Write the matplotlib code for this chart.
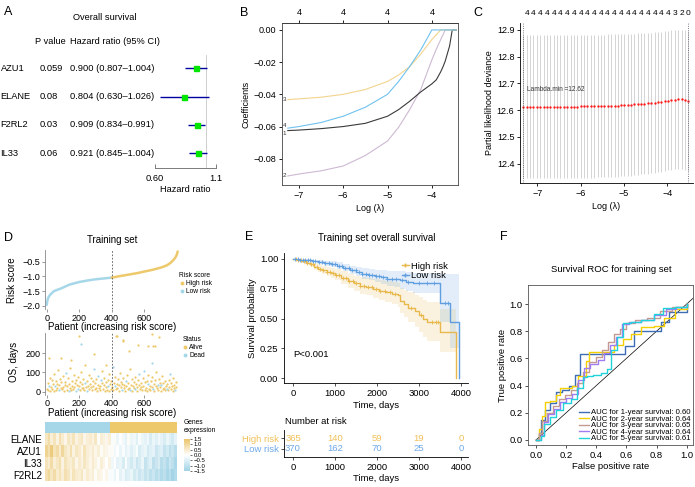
import numpy as np
import matplotlib
matplotlib.use('Agg')
import matplotlib.pyplot as plt
from matplotlib.lines import Line2D
from matplotlib.ticker import NullLocator
from matplotlib.colors import LinearSegmentedColormap

plt.rcParams['font.family'] = ['Liberation Sans', 'DejaVu Sans']
plt.rcParams['axes.linewidth'] = 0.6
plt.rcParams['xtick.major.width'] = 0.6
plt.rcParams['ytick.major.width'] = 0.6
plt.rcParams['xtick.major.size'] = 2.5
plt.rcParams['ytick.major.size'] = 2.5
plt.rcParams['xtick.major.pad'] = 1.5
plt.rcParams['ytick.major.pad'] = 1.5

# ---------------- data ----------------
# A: univariate cox
genes = ['AZU1', 'ELANE', 'F2RL2', 'IL33']
pvals = ['0.059', '0.08', '0.03', '0.06']
hr = [0.900, 0.804, 0.909, 0.921]
hr_lo = [0.807, 0.630, 0.834, 0.845]
hr_hi = [1.004, 1.026, 0.991, 1.004]

# B: lasso coefficient paths
lasso_loglam = [-7.25, -7.0, -6.5, -6.0, -5.5, -5.0, -4.75, -4.5, -4.25, -4.0,
                -3.9, -3.8, -3.75, -3.7, -3.6, -3.54, -3.45]
coef1 = [-0.0625, -0.0622, -0.0613, -0.0600, -0.0580, -0.0536, -0.0495, -0.0443, -0.0385, -0.0335,
         -0.0310, -0.0260, -0.0230, -0.0195, -0.0100, 0.0, 0.0]
coef2 = [-0.0907, -0.0895, -0.0875, -0.0845, -0.0780, -0.0690, -0.0605, -0.0495, -0.0370, -0.0186,
         -0.0120, -0.0060, -0.0030, 0.0, 0.0, 0.0, 0.0]
coef3 = [-0.0433, -0.0428, -0.0418, -0.0400, -0.0370, -0.0320, -0.0280, -0.0228, -0.0150, -0.0060,
         -0.0030, 0.0, 0.0, 0.0, 0.0, 0.0, 0.0]
coef4 = [-0.0610, -0.0600, -0.0575, -0.0536, -0.0480, -0.0400, -0.0320, -0.0227, -0.0124, 0.0,
         0.0, 0.0, 0.0, 0.0, 0.0, 0.0, 0.0]

# C: cross-validation
cv_loglam = [-7.32, -7.24, -7.17, -7.09, -7.01, -6.93, -6.85, -6.78, -6.70, -6.62,
             -6.54, -6.47, -6.39, -6.31, -6.23, -6.16, -6.08, -6.00, -5.92, -5.85,
             -5.77, -5.69, -5.61, -5.54, -5.46, -5.38, -5.30, -5.22, -5.15, -5.07,
             -4.99, -4.91, -4.84, -4.76, -4.68, -4.60, -4.53, -4.45, -4.37, -4.29,
             -4.22, -4.14, -4.06, -3.98, -3.91, -3.83, -3.75, -3.67, -3.60, -3.52]
cv_mean = [12.612, 12.612, 12.612, 12.612, 12.612, 12.612, 12.612, 12.612, 12.612, 12.613,
           12.613, 12.613, 12.613, 12.613, 12.613, 12.613, 12.613, 12.614, 12.614, 12.614,
           12.614, 12.614, 12.615, 12.615, 12.615, 12.616, 12.616, 12.617, 12.617, 12.618,
           12.619, 12.620, 12.620, 12.621, 12.622, 12.623, 12.624, 12.625, 12.627, 12.628,
           12.630, 12.631, 12.633, 12.635, 12.637, 12.639, 12.640, 12.640, 12.637, 12.633]
cv_se = [0.268, 0.268, 0.268, 0.268, 0.268, 0.268, 0.268, 0.268, 0.268, 0.268,
         0.268, 0.268, 0.268, 0.268, 0.268, 0.268, 0.268, 0.268, 0.268, 0.268,
         0.268, 0.268, 0.267, 0.267, 0.267, 0.267, 0.267, 0.267, 0.266, 0.266,
         0.266, 0.266, 0.265, 0.265, 0.265, 0.264, 0.264, 0.264, 0.263, 0.263,
         0.263, 0.262, 0.262, 0.261, 0.261, 0.260, 0.260, 0.260, 0.261, 0.262]
cv_nzero = [4] * 45 + [3, 3, 2, 2, 0]

# D: risk score curve (sorted patients)
risk_patient = [0, 3, 8, 20, 45, 92, 140, 200, 250, 297, 350, 400, 450, 502, 555, 605,
                655, 708, 740, 759, 775, 790, 800, 806]
risk_score = [-1.97, -1.85, -1.74, -1.63, -1.50, -1.40, -1.28, -1.19, -1.14, -1.10, -1.07,
              -1.04, -0.99, -0.94, -0.89, -0.83, -0.77, -0.69, -0.62, -0.55, -0.47, -0.37,
              -0.27, -0.15]
cutoff = 400
n_patients = 806

os_days = [12, 45, 8, 30, 72, 5, 22, 60, 15, 38, 90, 3, 27, 55, 10, 42, 18, 110, 7, 33, 65, 20, 48,
           14, 80, 25, 6, 52, 36, 95, 11, 28, 70, 4, 40, 19, 125, 9, 58, 31, 16, 85, 23, 46, 2, 62,
           35, 13, 75, 29, 7, 50, 100, 21, 39, 17, 68, 10, 44, 140, 26, 5, 57, 32, 88, 15, 41, 24, 73,
           8, 53, 30, 115, 12, 47, 20, 66, 3, 37, 82, 18, 28, 9, 60, 43, 105, 14, 34, 71, 6, 25, 49,
           11, 63, 27, 4, 92, 38, 16, 55, 22, 130, 7, 45, 31, 78, 13, 40, 19, 67, 2, 35, 98, 24, 51,
           9, 42, 70, 17, 33, 6, 58, 28, 86, 14, 46, 21, 120, 10, 37, 64, 4, 29, 52, 18, 77, 12, 40,
           26, 5, 61, 35, 94, 15, 44, 23, 8, 69, 31, 108, 11, 48, 20, 57, 3, 38, 84, 16, 30, 7, 54,
           22, 74, 13, 41, 6, 59, 27, 102, 18, 36, 9, 65, 25, 47, 4, 33, 81, 14, 43, 20, 56, 10, 30,
           15, 38, 7, 62, 24, 90, 12, 45, 29, 5, 70, 19, 34, 11, 52, 26]
os_dead_idx = [3, 12, 18, 29, 33, 44, 47, 58, 61, 72, 79, 83, 94, 101, 104, 115, 121, 128,
               136, 142, 149, 155, 163, 170, 176, 184, 189, 197]
os_hi_patient = [15, 88, 151, 200, 208, 288, 366, 425, 435, 467, 471, 509, 561, 625, 646, 646, 656, 665, 688]
os_hi_days = [177, 174, 163, 289, 247, 195, 138, 291, 288, 265, 270, 212, 242, 238, 300, 151, 238, 238, 282]
os_hi_dead = [0, 0, 0, 0, 1, 0, 0, 0, 0, 0, 0, 0, 0, 0, 0, 1, 0, 0, 0]

heat_genes = ['ELANE', 'AZU1', 'IL33', 'F2RL2']
heat_expr = [
    [0.6, 0.9, 0.4, 0.7, 0.3, 0.8, 0.5, 0.2, 0.6, 0.4, 0.7, 0.3, 0.5, 0.6, 0.2, 0.4, 0.5, 0.3, 0.6, 0.1, 0.4, 0.3, 0.2, 0.4,
     -0.1, 0.1, -0.3, 0.0, -0.2, -0.4, 0.1, -0.3, -0.2, -0.5, -0.1, -0.3, -0.4, -0.2, -0.6, -0.3, -0.5, -0.2, -0.4, -0.6, -0.3, -0.5, -0.7, -0.4],
    [1.1, 0.8, 1.3, 0.7, 0.9, 0.5, 1.0, 0.6, 0.4, 0.8, 0.3, 0.6, 0.5, 0.2, 0.7, 0.4, 0.3, 0.5, 0.2, 0.4, 0.1, 0.3, 0.2, 0.1,
     0.1, -0.2, 0.0, -0.3, -0.1, -0.4, -0.2, -0.5, -0.3, -0.1, -0.6, -0.4, -0.3, -0.7, -0.5, -0.4, -0.8, -0.6, -0.5, -0.9, -0.7, -1.0, -0.8, -1.1],
    [0.7, 0.5, 0.9, 0.4, 0.6, 0.8, 0.3, 0.7, 0.5, 0.4, 0.6, 0.2, 0.5, 0.3, 0.6, 0.4, 0.2, 0.5, 0.3, 0.1, 0.4, 0.2, 0.0, 0.3,
     -0.2, 0.0, -0.4, -0.3, -0.6, -0.1, -0.5, -0.7, -0.4, -0.8, -0.6, -0.3, -0.9, -0.7, -0.5, -1.0, -0.8, -0.6, -1.1, -0.9, -1.2, -0.8, -1.0, -1.3],
    [0.8, 1.0, 0.6, 0.9, 0.5, 0.7, 0.4, 0.8, 0.6, 0.3, 0.7, 0.5, 0.4, 0.6, 0.2, 0.5, 0.3, 0.4, 0.1, 0.3, 0.2, 0.0, 0.2, -0.1,
     -0.1, -0.3, 0.0, -0.4, -0.2, -0.6, -0.5, -0.3, -0.7, -0.5, -0.8, -0.6, -0.9, -0.7, -1.0, -0.8, -1.1, -0.9, -1.2, -1.0, -1.3, -1.1, -1.4, -1.2],
]

# E: Kaplan-Meier
km_hi_t = [0, 100, 200, 300, 400, 500, 600, 700, 800, 900, 1000, 1150, 1300, 1450, 1600, 1750, 1900,
           2050, 2200, 2350, 2500, 2550, 2650, 2750, 2900, 3000, 3100, 3200, 3500, 3880]
km_hi_s = [1.0, 0.99, 0.98, 0.97, 0.955, 0.935, 0.92, 0.905, 0.89, 0.88, 0.865, 0.84, 0.815, 0.795,
           0.775, 0.765, 0.75, 0.735, 0.725, 0.71, 0.695, 0.65, 0.62, 0.59, 0.56, 0.53, 0.50, 0.47, 0.39, 0.0]
km_hi_lo = [1.0, 0.98, 0.965, 0.955, 0.935, 0.91, 0.89, 0.87, 0.855, 0.84, 0.82, 0.79, 0.76, 0.735,
            0.71, 0.695, 0.675, 0.655, 0.64, 0.62, 0.60, 0.55, 0.51, 0.47, 0.43, 0.39, 0.35, 0.31, 0.22, 0.0]
km_hi_up = [1.0, 1.0, 0.995, 0.99, 0.98, 0.965, 0.955, 0.945, 0.93, 0.925, 0.915, 0.895, 0.875, 0.86,
            0.845, 0.84, 0.83, 0.82, 0.815, 0.805, 0.795, 0.76, 0.74, 0.72, 0.70, 0.68, 0.66, 0.64, 0.58, 0.58]
km_lo_t = [0, 150, 300, 450, 600, 750, 900, 1050, 1200, 1350, 1500, 1650, 1800, 1950, 2100, 2250,
           2400, 2550, 2700, 2850, 3500, 3740, 3960]
km_lo_s = [1.0, 0.995, 0.99, 0.985, 0.975, 0.965, 0.955, 0.945, 0.925, 0.905, 0.89, 0.875, 0.865,
           0.855, 0.845, 0.835, 0.83, 0.82, 0.81, 0.795, 0.63, 0.47, 0.0]
km_lo_lo = [1.0, 0.99, 0.98, 0.975, 0.96, 0.945, 0.935, 0.92, 0.895, 0.87, 0.855, 0.835, 0.82,
            0.805, 0.79, 0.775, 0.765, 0.75, 0.735, 0.715, 0.47, 0.25, 0.0]
km_lo_up = [1.0, 1.0, 1.0, 0.995, 0.99, 0.985, 0.98, 0.975, 0.96, 0.945, 0.935, 0.925, 0.915,
            0.91, 0.905, 0.9, 0.9, 0.895, 0.89, 0.88, 0.87, 0.87, 0.87]
cens_hi = [60, 120, 180, 260, 330, 420, 480, 560, 640, 720, 800, 870, 950, 1020, 1100, 1180, 1260,
           1340, 1420, 1510, 1600, 1690, 1780, 1880, 1980, 2080, 2180, 2300, 2420, 2800, 3050, 3300, 3400, 3450]
cens_lo = [50, 110, 170, 230, 290, 350, 410, 470, 530, 610, 690, 770, 850, 930, 1010, 1090, 1170,
           1250, 1330, 1410, 1490, 1570, 1650, 1730, 1810, 1890, 1970, 2050, 2150, 2250, 2350, 2450,
           2600, 2750, 3000, 3200, 3350, 3620, 3680]
risk_times = [0, 1000, 2000, 3000, 4000]
at_risk_hi = [365, 140, 59, 19, 0]
at_risk_lo = [370, 162, 70, 25, 0]

# F: time-dependent ROC
roc_labels = ['AUC for 1-year survival: 0.60', 'AUC for 2-year survival: 0.64',
              'AUC for 3-year survival: 0.65', 'AUC for 4-year survival: 0.64',
              'AUC for 5-year survival: 0.61']
roc_colors = ['#3D6DB5', '#F4D000', '#C49A90', '#A07CF2', '#20D2DA']
roc_fpr = [
    [0, 0.02, 0.03, 0.06, 0.09, 0.13, 0.17, 0.22, 0.26, 0.29, 0.36, 0.45, 0.59, 0.65, 0.72, 0.83, 0.88, 0.97, 1.0],
    [0, 0.02, 0.04, 0.06, 0.09, 0.13, 0.16, 0.20, 0.24, 0.28, 0.33, 0.35, 0.42, 0.47, 0.52, 0.58, 0.63, 0.70, 0.78, 0.85, 0.92, 1.0],
    [0, 0.02, 0.04, 0.07, 0.11, 0.15, 0.19, 0.23, 0.27, 0.31, 0.35, 0.40, 0.44, 0.48, 0.52, 0.56, 0.60, 0.66, 0.74, 0.82, 0.90, 1.0],
    [0, 0.03, 0.05, 0.08, 0.12, 0.16, 0.20, 0.24, 0.28, 0.32, 0.36, 0.41, 0.45, 0.49, 0.53, 0.57, 0.62, 0.70, 0.78, 0.86, 0.93, 1.0],
    [0, 0.03, 0.05, 0.09, 0.13, 0.18, 0.23, 0.27, 0.31, 0.34, 0.38, 0.43, 0.47, 0.50, 0.54, 0.58, 0.63, 0.70, 0.78, 0.84, 0.92, 1.0],
]
roc_tpr = [
    [0, 0.05, 0.15, 0.22, 0.27, 0.35, 0.37, 0.40, 0.48, 0.63, 0.63, 0.63, 0.69, 0.80, 0.80, 0.87, 0.94, 0.94, 1.0],
    [0, 0.08, 0.18, 0.28, 0.29, 0.33, 0.38, 0.38, 0.40, 0.47, 0.58, 0.65, 0.65, 0.65, 0.70, 0.74, 0.78, 0.83, 0.84, 0.90, 0.96, 1.0],
    [0, 0.05, 0.14, 0.20, 0.25, 0.30, 0.33, 0.37, 0.42, 0.50, 0.57, 0.61, 0.66, 0.72, 0.78, 0.82, 0.86, 0.88, 0.90, 0.95, 0.98, 1.0],
    [0, 0.04, 0.13, 0.19, 0.23, 0.28, 0.31, 0.34, 0.44, 0.53, 0.56, 0.59, 0.64, 0.70, 0.76, 0.85, 0.87, 0.88, 0.92, 0.96, 0.98, 1.0],
    [0, 0.03, 0.12, 0.17, 0.22, 0.27, 0.30, 0.38, 0.46, 0.47, 0.48, 0.49, 0.52, 0.66, 0.76, 0.86, 0.87, 0.88, 0.93, 0.97, 0.98, 1.0],
]

# colours
C_LOW = '#A6D7E8'
C_HIGH = '#EDC96B'
KM_HIGH = '#E8B84C'
KM_LOW = '#5F9FE0'

# ---------------- figure ----------------
W, H = 695, 487
fig = plt.figure(figsize=(W / 100, H / 100), dpi=100)


def box(l, t, r, b):
    return [l / W, 1 - b / H, (r - l) / W, (b - t) / H]


def ftext(x, y, s, **kw):
    kw.setdefault('va', 'center')
    return fig.text(x / W, 1 - y / H, s, **kw)


# ---------- A ----------
ftext(4, 12, 'A', fontsize=9)
ftext(105, 18, 'Overall survival', fontsize=6.7, ha='center')
ftext(35, 42, 'P value', fontsize=6.7)
ftext(70, 42, 'Hazard ratio (95% CI)', fontsize=6.7)
for i, g in enumerate(genes):
    y = 68.3 + 28.33 * i
    ftext(0.5, y, g, fontsize=6.7)
    ftext(40, y, pvals[i], fontsize=6.7)
    ftext(70, y, f'{hr[i]:.3f} ({hr_lo[i]:.3f}\u2013{hr_hi[i]:.3f})', fontsize=6.7)

fa = fig.add_axes(box(155, 55, 216, 168))
fa.patch.set_alpha(0)
fa.set_xscale('log')
fa.set_xlim(0.6, 1.1)
fa.set_ylim(3.52, -0.47)
fa.axvline(1.0, color='#C8C8C8', lw=0.6)
fa.hlines(range(len(genes)), hr_lo, hr_hi, color='#0000A0', lw=1.0)
fa.plot(hr, range(len(genes)), 's', color='#00E600', ms=3.6)
for s in ['left', 'right', 'top']:
    fa.spines[s].set_visible(False)
fa.spines['bottom'].set_bounds(0.6, 1.1)
fa.spines['bottom'].set_color('#666666')
fa.set_xticks([0.6, 1.1])
fa.set_xticklabels(['0.60', '1.1'], fontsize=6.7)
fa.xaxis.set_minor_locator(NullLocator())
fa.tick_params(axis='x', direction='in', length=3, pad=4, color='#666666')
fa.set_yticks([])
fa.set_xlabel('Hazard ratio', fontsize=6.7, labelpad=2)

# ---------- B ----------
ftext(240, 13, 'B', fontsize=9)
ab = fig.add_axes(box(282, 23, 458, 185))
ab.set_xlim(-7.38, -3.41)
ab.set_ylim(-0.0963, 0.0043)
path_cols = {1: '#3A3A3A', 2: '#CDB9D2', 3: '#F2D48E', 4: '#70C2EE'}
paths = {1: coef1, 2: coef2, 3: coef3, 4: coef4}
for k in [2, 1, 3, 4]:
    ab.plot(lasso_loglam, paths[k], color=path_cols[k], lw=0.8)
for k, va in [(1, 'top'), (2, 'center'), (3, 'center'), (4, 'bottom')]:
    ab.text(-7.36, paths[k][0], str(k), fontsize=4.5, ha='left', va=va, color='#333333')
ab.set_xticks([-7, -6, -5, -4])
ab.set_yticks([0, -0.02, -0.04, -0.06, -0.08])
ab.set_yticklabels(['0.00', '\u22120.02', '\u22120.04', '\u22120.06', '\u22120.08'])
ab.tick_params(labelsize=6.5)
ab.set_ylabel('Coefficients', fontsize=6.5, labelpad=2)
ab.set_xlabel('Log (\u03bb)', fontsize=6.5, labelpad=3)
top = ab.secondary_xaxis('top')
top.set_xticks([-7, -6, -5, -4])
top.set_xticklabels(['4'] * 4)
top.tick_params(labelsize=6.5)
for s in ab.spines.values():
    s.set_color('#444444')

# ---------- C ----------
ftext(473, 13, 'C', fontsize=9)
ac = fig.add_axes(box(520, 23, 693, 183))
ac.set_xlim(-7.40, -3.41)
ac.set_ylim(12.327, 12.926)
cv_mean_a = np.array(cv_mean)
cv_se_a = np.array(cv_se)
ac.vlines(cv_loglam, cv_mean_a - cv_se_a, cv_mean_a + cv_se_a, color='#C4C4C4', lw=0.5)
ac.plot(cv_loglam, cv_mean, 'o', color='#FF1A1A', ms=1.7, mec='none')
ac.axvline(cv_loglam[0], color='#555555', ls=':', lw=0.6)
ac.axvline(cv_loglam[-1], color='#555555', ls=':', lw=0.6)
ac.text(-7.24, 12.678, 'Lambda.min =12.62', fontsize=4.7, ha='left', va='center', color='#333333')
ac.spines['top'].set_visible(False)
ac.spines['right'].set_visible(False)
ac.set_xticks([-7, -6, -5, -4])
ac.set_yticks([12.4, 12.5, 12.6, 12.7, 12.8, 12.9])
ac.tick_params(labelsize=6.5)
ac.set_ylabel('Partial likelihood deviance', fontsize=6.5, labelpad=2)
ac.set_xlabel('Log (\u03bb)', fontsize=6.5, labelpad=3)
lab_idx = list(range(len(cv_loglam) - 1, -1, -2))[::-1]
topc = ac.secondary_xaxis('top')
topc.set_xticks([cv_loglam[i] for i in lab_idx])
topc.set_xticklabels([str(cv_nzero[i]) for i in lab_idx])
topc.tick_params(labelsize=6, length=0, pad=4)
topc.spines['top'].set_visible(False)

# ---------- D ----------
ftext(4, 238, 'D', fontsize=9)
ftext(112, 240, 'Training set', fontsize=7, ha='center')
rp = np.array(risk_patient)
rs = np.array(risk_score)
ar = fig.add_axes(box(45.1, 250, 181.6, 308.7))
ar.set_xlim(-10, 830)
ar.set_ylim(-2.1, -0.1)
ar.plot(rp[rp <= cutoff], rs[rp <= cutoff], color=C_LOW, lw=1.8, solid_capstyle='round')
ar.plot(rp[rp >= cutoff], rs[rp >= cutoff], color=C_HIGH, lw=1.8, solid_capstyle='round')
ar.axvline(cutoff, color='#555555', ls='--', lw=0.6, dashes=(2, 2))
ar.set_yticks([-2.0, -1.5, -1.0, -0.5])
ar.set_yticklabels(['\u22122.0', '\u22121.5', '\u22121.0', '\u22120.5'])
ar.set_xticks([0, 200, 400, 600])
ar.tick_params(labelsize=6.5, color='#888888', pad=1)
for s in ['top', 'right', 'bottom']:
    ar.spines[s].set_visible(False)
ar.spines['left'].set_color('#888888')
ftext(12, 280, 'Risk score', fontsize=7, rotation=90, ha='center')
ftext(112, 327.5, 'Patient (increasing risk score)', fontsize=7, ha='center')
ar.legend(handles=[Line2D([], [], ls='', marker='o', ms=1.8, color=C_HIGH),
                   Line2D([], [], ls='', marker='o', ms=1.8, color=C_LOW)],
          labels=['High risk', 'Low risk'], title='Risk score',
          loc='upper left', bbox_to_anchor=(176 / W, 1 - 269 / H), bbox_transform=fig.transFigure,
          fontsize=4.8, title_fontsize=4.8, frameon=False, alignment='left',
          handlelength=0.8, handletextpad=0.2, labelspacing=0.15, borderpad=0)

ao = fig.add_axes(box(45.1, 332.8, 181.6, 394.6))
ao.set_xlim(-10, 830)
ao.set_ylim(-15, 305)
osp = 2 + 4 * np.arange(len(os_days))
osd = np.array(os_days)
dead = np.isin(np.arange(len(os_days)), os_dead_idx)
hp = np.array(os_hi_patient)
hd = np.array(os_hi_days)
hdead = np.array(os_hi_dead) == 1
ao.scatter(osp[~dead], osd[~dead], s=2.6, color=C_HIGH, lw=0)
ao.scatter(hp[~hdead], hd[~hdead], s=2.6, color=C_HIGH, lw=0)
ao.scatter(osp[dead], osd[dead], s=2.6, color=C_LOW, lw=0)
ao.scatter(hp[hdead], hd[hdead], s=2.6, color=C_LOW, lw=0)
ao.axvline(cutoff, color='#555555', ls='--', lw=0.6, dashes=(2, 2))
ao.set_yticks([0, 100, 200])
ao.set_xticks([0, 200, 400, 600])
ao.tick_params(labelsize=6.5, color='#888888', pad=1)
for s in ['top', 'right', 'bottom']:
    ao.spines[s].set_visible(False)
ao.spines['left'].set_color('#888888')
ftext(14, 362, 'OS, days', fontsize=7, rotation=90, ha='center')
ftext(112, 413.5, 'Patient (increasing risk score)', fontsize=7, ha='center')
ao.legend(handles=[Line2D([], [], ls='', marker='o', ms=1.8, color=C_HIGH),
                   Line2D([], [], ls='', marker='o', ms=1.8, color=C_LOW)],
          labels=['Alive', 'Dead'], title='Status',
          loc='upper left', bbox_to_anchor=(179 / W, 1 - 333 / H), bbox_transform=fig.transFigure,
          fontsize=4.8, title_fontsize=4.8, frameon=False, alignment='left',
          handlelength=0.8, handletextpad=0.2, labelspacing=0.15, borderpad=0)

# risk group bar + heatmap
abar = fig.add_axes(box(45, 421.7, 176.7, 432.7))
abar.barh(0, cutoff, left=0, height=1, color=C_LOW)
abar.barh(0, n_patients - cutoff, left=cutoff, height=1, color=C_HIGH)
abar.set_xlim(0, n_patients)
abar.set_ylim(-0.5, 0.5)
abar.axis('off')

ah = fig.add_axes(box(45, 432.7, 176.7, 480.5))
cmap = LinearSegmentedColormap.from_list('ge', ['#9FD2E5', '#FFFFFF', '#EAC46C'])
im = ah.imshow(np.array(heat_expr), aspect='auto', cmap=cmap, vmin=-1.5, vmax=1.5,
               interpolation='nearest')
ah.set_yticks(range(len(heat_genes)))
ah.set_yticklabels(heat_genes, fontsize=7)
ah.set_xticks([])
ah.tick_params(axis='y', length=0, pad=2)
for s in ah.spines.values():
    s.set_visible(False)
cax = fig.add_axes(box(184, 439, 190.5, 471))
cb = fig.colorbar(im, cax=cax, ticks=[1.5, 1.0, 0.5, 0.0, -0.5, -1.0, -1.5])
cb.ax.set_yticklabels(['1.5', '1.0', '0.5', '0.0', '\u22120.5', '\u22121.0', '\u22121.5'])
cb.ax.tick_params(labelsize=4.3, length=1.2, width=0.4, pad=0.8)
cb.outline.set_visible(False)
ftext(184, 422.7, 'Genes', fontsize=4.8)
ftext(184, 430.3, 'expression', fontsize=4.8)

# ---------- E ----------
ftext(245, 237, 'E', fontsize=9)
ftext(377, 238, 'Training set overall survival', fontsize=7, ha='center')
ak = fig.add_axes(box(284, 253, 468, 383.3))
ak.set_xlim(-214, 4167)
ak.set_ylim(-0.042, 1.05)
ak.fill_between(km_hi_t, km_hi_lo, km_hi_up, step='post', color=KM_HIGH, alpha=0.18, lw=0)
ak.fill_between(km_lo_t, km_lo_lo, km_lo_up, step='post', color=KM_LOW, alpha=0.18, lw=0)
ak.step(km_hi_t, km_hi_s, where='post', color=KM_HIGH, lw=1.0)
ak.step(km_lo_t, km_lo_s, where='post', color=KM_LOW, lw=1.0)
for ct, tt, ss, col in [(cens_hi, km_hi_t, km_hi_s, KM_HIGH), (cens_lo, km_lo_t, km_lo_s, KM_LOW)]:
    idx = np.searchsorted(tt, ct, side='right') - 1
    ak.plot(ct, np.array(ss)[idx], ls='', marker='+', ms=2.8, mew=0.6, color=col)
ak.text(0, 0.2, 'P<0.001', fontsize=6.8, ha='left', va='center')
ak.set_xticks([0, 1000, 2000, 3000, 4000])
ak.set_yticks([0, 0.25, 0.5, 0.75, 1.0])
ak.set_yticklabels(['0.00', '0.25', '0.50', '0.75', '1.00'])
ak.tick_params(labelsize=6.8, color='#333333')
for s in ['top', 'right']:
    ak.spines[s].set_visible(False)
ak.set_xlabel('Time, days', fontsize=6.8, labelpad=2.5)
ak.set_ylabel('Survival probability', fontsize=6.8, labelpad=2)
ak.legend(handles=[Line2D([], [], color=KM_HIGH, lw=1, marker='+', ms=3),
                   Line2D([], [], color=KM_LOW, lw=1, marker='+', ms=3)],
          labels=['High risk', 'Low risk'], loc='upper right',
          bbox_to_anchor=(453 / W, 1 - 257 / H), bbox_transform=fig.transFigure,
          fontsize=6.8, frameon=False, handlelength=0.7, handletextpad=0.3,
          labelspacing=0.05, borderpad=0)

ftext(285, 421.7, 'Number at risk', fontsize=6.8)
at = fig.add_axes(box(284, 430, 468, 457))
at.set_xlim(-214, 4167)
at.set_ylim(-0.75, 1.78)
for t, a, b in zip(risk_times, at_risk_hi, at_risk_lo):
    at.text(t, 1, str(a), color='#F0C058', fontsize=6.8, ha='center', va='center')
    at.text(t, 0, str(b), color='#6EA8E8', fontsize=6.8, ha='center', va='center')
at.set_yticks([1, 0])
at.set_yticklabels(['High risk', 'Low risk'], fontsize=6.8)
at.get_yticklabels()[0].set_color('#F0C058')
at.get_yticklabels()[1].set_color('#6EA8E8')
at.set_xticks(risk_times)
at.tick_params(labelsize=6.8, color='#333333')
for s in ['top', 'right']:
    at.spines[s].set_visible(False)
at.set_xlabel('Time, days', fontsize=6.8, labelpad=1.5)

# ---------- F ----------
ftext(500, 237, 'F', fontsize=9)
ftext(611, 270, 'Survival ROC for training set', fontsize=6.8, ha='center')
af = fig.add_axes(box(528.3, 285, 693.3, 445))
af.set_xlim(-0.051, 1.044)
af.set_ylim(-0.037, 1.14)
af.plot([0, 1.2], [0, 1.2], color='black', lw=0.5)
for fp, tp, c, lab in zip(roc_fpr, roc_tpr, roc_colors, roc_labels):
    af.plot(fp, tp, drawstyle='steps-post', color=c, lw=1.0, label=lab)
af.set_xticks([0, 0.2, 0.4, 0.6, 0.8, 1.0])
af.set_yticks([0, 0.2, 0.4, 0.6, 0.8, 1.0])
af.tick_params(labelsize=6.8, color='#333333')
for s in af.spines.values():
    s.set_color('#555555')
af.set_xlabel('False positive rate', fontsize=6.8, labelpad=2)
af.set_ylabel('True positive rate', fontsize=6.8, labelpad=2)
af.legend(loc='lower right', fontsize=5.6, frameon=False, handlelength=1.4,
          handletextpad=0.2, labelspacing=-0.12, borderpad=0.2, borderaxespad=0.15)

fig.savefig('out.png', dpi=100)
